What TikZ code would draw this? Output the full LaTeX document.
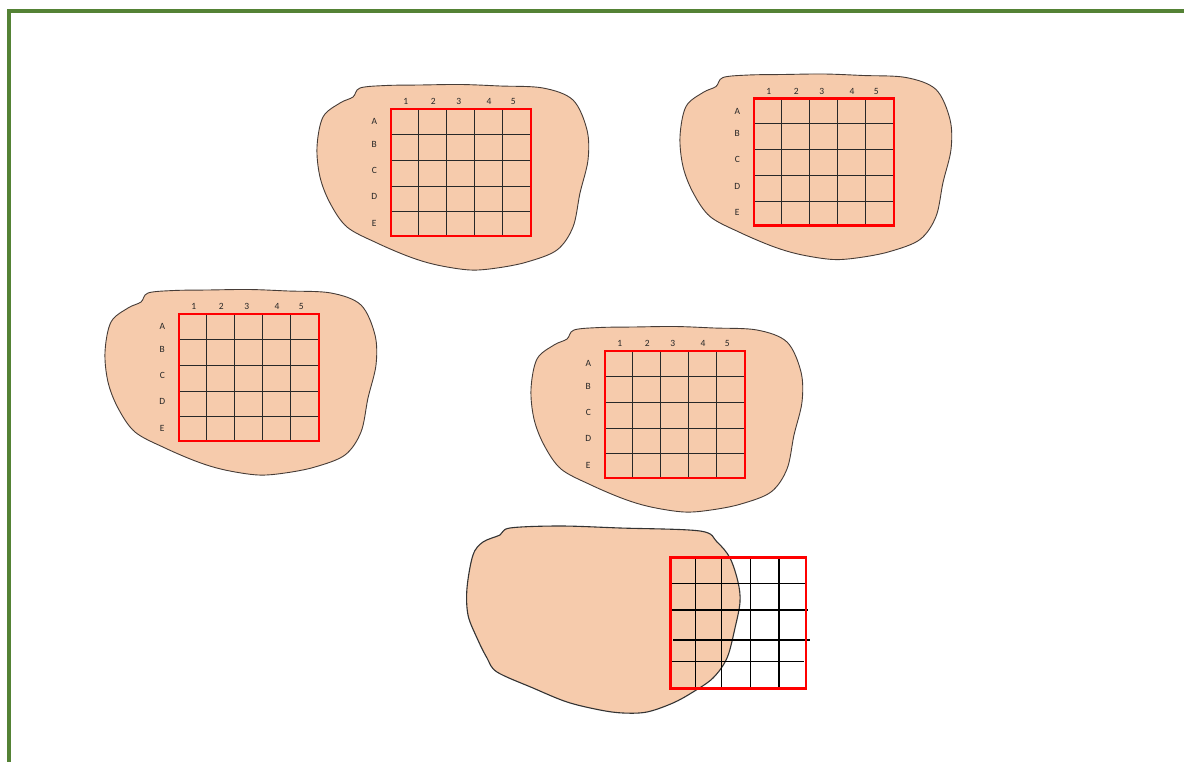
\documentclass[tikz,border=0pt]{standalone}
\usepackage{fontspec}
\setmainfont{Carlito}
\definecolor{peach}{RGB}{246,203,172}
\definecolor{blobline}{RGB}{70,60,55}
\definecolor{framegreen}{RGB}{84,130,53}
\definecolor{gridgray}{RGB}{40,40,40}
\tikzset{
  blob/.style={fill=peach, draw=blobline, line width=0.9pt},
  gridline/.style={draw=gridgray, line width=0.8pt},
  gridframe/.style={draw=red, line width=2.4pt},
  lab/.style={font=\fontsize{9.5}{11}\selectfont, inner sep=0pt, text=black!85},
}
\newcommand\gridblob[3]{%
 \begin{scope}[shift={(#2,#3)}]
  \filldraw[blob] plot[smooth cycle, tension=0.55] coordinates {
   (-31,-21) (-5,-23.5) (29,-24) (70,-24.5) (109,-23) (152,-21) (182,-9) (196,21) (197,51)
   (189,84) (182,118) (166,141) (136,153) (106,159) (79,161) (46,156)
   (19,148) (-14,134) (-44,118) (-61,94) (-71,68) (-74,38) (-68,8) (-51,-6) (-38,-12)};
  \foreach \x in {27.3,55,83.3,111.7} \draw[gridline] (\x,0) -- (\x,127);
  \foreach \y in {25,51,77,102.7} \draw[gridline] (0,\y) -- (139.7,\y);
  \draw[gridframe] (0,0) rectangle (139.7,127);
  \foreach \t/\x in {1/14.7,2/42.3,3/67.7,4/98,5/122.3} \node[lab] (#1c\t) at (\x,-7.3) {\t};
  \foreach \t/\y in {A/12.7,B/35.3,C/61,D/87.7,E/114.3} \node[lab] (#1r\t) at (-16.7,\y) {\t};
 \end{scope}}
\begin{document}
\begin{tikzpicture}[x=1pt,y=-1pt]
\useasboundingbox (0,0) rectangle (1184,762);
\fill[white] (0,0) rectangle (1184,762);
\draw[framegreen, line width=4pt] (8.5,762) -- (8.5,11.3) -- (1184,11.3);

\gridblob{one}{391}{109}
\gridblob{two}{754}{98.5}
\gridblob{three}{179}{314}
\gridblob{four}{605}{351}

% bottom blob with overhanging grid
\filldraw[blob, draw=black!80, line width=1.1pt] plot[smooth cycle, tension=0.55] coordinates {
 (510,528) (560,526) (620,528) (700,531) (717,542) (730,558) (738,582) (740,602)
 (735,628) (727,658) (713,678) (693,692) (673,703) (647,712) (623,713)
 (600,710) (567,702) (533,688) (497,672) (487,658) (477,638) (468,615)
 (467,588) (473,555) (483,542) (500,535)};
\foreach \x in {695.3,721.3,750.7,779} \draw[black, line width=1.2pt] (\x,557.7) -- (\x,688.3);
\draw[black, line width=1.2pt] (670,583.3) -- (807,583.3);
\draw[black, line width=1.2pt] (672,610) -- (808,610);
\draw[black, line width=1.2pt] (673,640) -- (810,640);
\draw[black, line width=1.2pt] (669,661.7) -- (804,661.7);
\draw[red, line width=2.8pt] (670.7,557.7) rectangle (806,688.3);
\end{tikzpicture}
\end{document}
